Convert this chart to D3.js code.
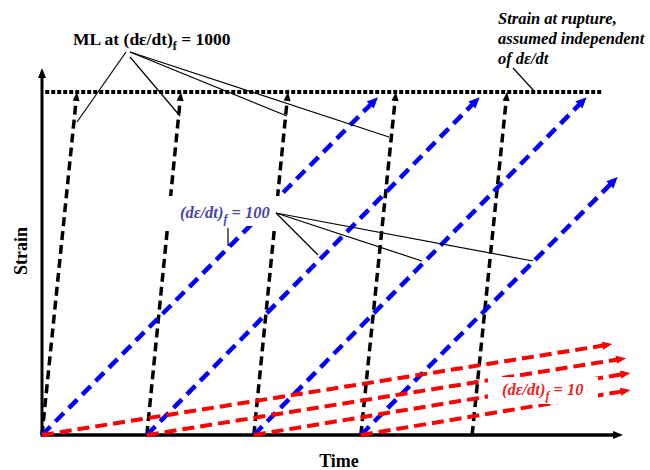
<!DOCTYPE html>
<html>
<head>
<meta charset="utf-8">
<script src="https://cdn.jsdelivr.net/npm/d3@7/dist/d3.min.js"></script>
<style>
  html, body { margin: 0; padding: 0; background: #fff; }
  svg { display: block; }
  text { font-family: "Liberation Serif", "Times New Roman", serif; font-weight: bold; }
</style>
</head>
<body>
<div id="chart"></div>
<script>
// Creep loading histories: strain vs time for three forward strain rates,
// each restarted at successive load-application times, up to a common rupture strain.

const loadStart = [0, 0.98, 1.98, 2.98, 4.02];          // time at which each load is applied
const ruptureStrain = 1.0;                              // strain at rupture
const ruptureSpan = [0.03, 5.23];                       // time extent of the rupture line

// (dε/dt)f = 1000 : time at which each history reaches rupture
const rate1000EndTime = [0.327, 1.299, 2.299, 3.308, 4.346];

// (dε/dt)f = 100 : end of each history
const rate100EndTime   = [3.14, 4.09, 5.09, 5.38];
const rate100EndStrain = [0.985, 0.985, 0.985, 0.752];

// (dε/dt)f = 10 : end of each history
const rate10EndTime   = [5.33, 5.46, 5.50, 5.50];
const rate10EndStrain = [0.265, 0.224, 0.181, 0.131];

const W = 650, H = 470;
const x = d3.scaleLinear().domain([0, 5.43]).range([42, 623]);
const y = d3.scaleLinear().domain([0, 1.07]).range([435, 68]);

const svg = d3.select("#chart").append("svg")
  .attr("width", W).attr("height", H);

// dashed segment ending in a filled arrowhead at p1
function arrowLine(g, p0, p1, o) {
  const dx = p1[0] - p0[0], dy = p1[1] - p0[1];
  const L = Math.hypot(dx, dy), ux = dx / L, uy = dy / L;
  const bx = p1[0] - ux * o.head, by = p1[1] - uy * o.head;
  g.append("line")
    .attr("x1", p0[0]).attr("y1", p0[1])
    .attr("x2", bx + ux * 1).attr("y2", by + uy * 1)
    .attr("stroke", o.color).attr("stroke-width", o.width)
    .attr("stroke-dasharray", o.dash || null);
  const nx = -uy, ny = ux, hw = o.headW / 2;
  g.append("path")
    .attr("d", `M${p1[0]},${p1[1]}L${bx + nx * hw},${by + ny * hw}L${bx - nx * hw},${by - ny * hw}Z`)
    .attr("fill", o.color);
}

// axes (no ticks), drawn as arrows
const axes = svg.append("g");
arrowLine(axes, [x(0), y(0)], [x(0), y.range()[1]], { color: "#000", width: 3, head: 10, headW: 8 });
arrowLine(axes, [x(0) - 1.5, y(0)], [x.range()[1], y(0)], { color: "#000", width: 3.5, head: 10, headW: 8 });

// rupture strain line
svg.append("line")
  .attr("x1", x(ruptureSpan[0])).attr("x2", x(ruptureSpan[1]))
  .attr("y1", y(ruptureStrain)).attr("y2", y(ruptureStrain))
  .attr("stroke", "#000").attr("stroke-width", 4)
  .attr("stroke-dasharray", "4,2");

// (dε/dt)f = 1000
const g1000 = svg.append("g");
rate1000EndTime.forEach((t, i) => {
  arrowLine(g1000, [x(loadStart[i]), y(0)], [x(t), y(ruptureStrain)],
    { color: "#000", width: 3.5, dash: "9,5", head: 9, headW: 7 });
});

// (dε/dt)f = 100
const g100 = svg.append("g");
rate100EndTime.forEach((t, i) => {
  arrowLine(g100, [x(loadStart[i]), y(0)], [x(t), y(rate100EndStrain[i])],
    { color: "#0000ff", width: 4.5, dash: "12,7", head: 11, headW: 10 });
});

// (dε/dt)f = 10
const g10 = svg.append("g");
rate10EndTime.forEach((t, i) => {
  arrowLine(g10, [x(loadStart[i]), y(0)], [x(t), y(rate10EndStrain[i])],
    { color: "#ff0000", width: 4, dash: "12,6", head: 10, headW: 8 });
});

// label backgrounds
svg.append("rect").attr("x", 164).attr("y", 196).attr("width", 120).attr("height", 30).attr("fill", "#fff");
svg.append("rect").attr("x", 488).attr("y", 377).attr("width", 110).attr("height", 27).attr("fill", "#fff");

// leader lines
const leaders = [
  [126, 52, 77, 122], [130, 57, 180, 116], [130, 52, 287, 116], [130, 52, 389, 137],
  [276, 213, 318, 255], [276, 213, 422, 261], [276, 213, 533, 261],
  [228, 228, 228, 246],
  [513, 68, 535, 92]
];
svg.append("g").selectAll("line").data(leaders).join("line")
  .attr("x1", d => d[0]).attr("y1", d => d[1])
  .attr("x2", d => d[2]).attr("y2", d => d[3])
  .attr("stroke", "#000").attr("stroke-width", 1.2);

// text
const t1 = svg.append("text").attr("x", 73).attr("y", 45).attr("font-size", 17.5).attr("fill", "#000");
t1.append("tspan").text("ML at (dε/dt)");
t1.append("tspan").attr("font-size", 12).attr("dy", 5).text("f");
t1.append("tspan").attr("dy", -5).text(" = 1000");

const rup = svg.append("text").attr("font-size", 16.5).attr("font-style", "italic").attr("fill", "#000");
["Strain at rupture,", "assumed independent", "of dε/dt"].forEach((s, i) => {
  rup.append("tspan").attr("x", 498).attr("y", 24 + i * 20).text(s);
});

const t100 = svg.append("text").attr("x", 180).attr("y", 218).attr("font-size", 16.5)
  .attr("font-style", "italic").attr("fill", "#4646a6");
t100.append("tspan").text("(dε/dt)");
t100.append("tspan").attr("font-size", 12).attr("dy", 5).text("f");
t100.append("tspan").attr("dy", -5).text(" = 100");

const t10 = svg.append("text").attr("x", 502).attr("y", 395).attr("font-size", 16.5)
  .attr("font-style", "italic").attr("fill", "#ee2222");
t10.append("tspan").text("(dε/dt)");
t10.append("tspan").attr("font-size", 12).attr("dy", 5).text("f");
t10.append("tspan").attr("dy", -5).text(" = 10");

svg.append("text").attr("x", 339).attr("y", 467).attr("text-anchor", "middle")
  .attr("font-size", 18).text("Time");
svg.append("text").attr("transform", "translate(27,251) rotate(-90)").attr("text-anchor", "middle")
  .attr("font-size", 18).text("Strain");
</script>
</body>
</html>
